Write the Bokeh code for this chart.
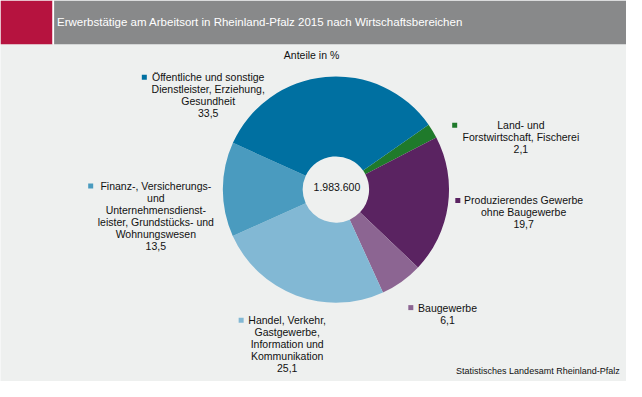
import math
from bokeh.plotting import figure
from bokeh.models import Range1d
from bokeh.core.properties import value
from bokeh.embed import file_html
from bokeh.resources import INLINE

# ---------------- data ----------------
title = "Erwerbstätige am Arbeitsort in Rheinland-Pfalz 2015 nach Wirtschaftsbereichen"
subtitle = "Anteile in %"
source = "Statistisches Landesamt Rheinland-Pfalz"

categories = [
    "Land- und Forstwirtschaft, Fischerei",
    "Produzierendes Gewerbe ohne Baugewerbe",
    "Baugewerbe",
    "Handel, Verkehr, Gastgewerbe, Information und Kommunikation",
    "Finanz-, Versicherungs- und Unternehmensdienstleister, Grundstücks- und Wohnungswesen",
    "Öffentliche und sonstige Dienstleister, Erziehung, Gesundheit",
]
label_lines = [
    ["Land- und", "Forstwirtschaft, Fischerei"],
    ["Produzierendes Gewerbe", "ohne Baugewerbe"],
    ["Baugewerbe"],
    ["Handel, Verkehr,", "Gastgewerbe,", "Information und", "Kommunikation"],
    ["Finanz-, Versicherungs-", "und", "Unternehmensdienst-", "leister, Grundstücks- und", "Wohnungswesen"],
    ["Öffentliche und sonstige", "Dienstleister, Erziehung,", "Gesundheit"],
]
shares = [2.1, 19.7, 6.1, 25.1, 13.5, 33.5]
total_employed = 1983600

# ---------------- styles / layout ----------------
colors = ["#1F7A2B", "#5A2361", "#8C6592", "#82B8D4", "#4A9BBF", "#0070A1"]
BG = "#EEF0EF"
RED = "#B6133F"
GRAY = "#88898A"
TXT = "#111111"
FONT = value("Liberation Sans")

W, H = 642.0, 397.0          # design space (reference pixels)


def fy(Y):
    return H - Y


CX, CY = 344.0, 197.0
R_OUT, R_IN = 116.0, 34.0
START_DEG = 55.0             # clockwise from 12 o'clock
LINE_H = 12.4

# label anchors: (center x, first line y, key x)
anchors = [
    (533.7, 130.0, 465.8),
    (536.5, 208.3, 469.0),
    (458.5, 320.0, 420.8),
    (294.0, 333.3, 246.8),
    (159.3, 193.3, 92.5),
    (213.0, 80.0, 147.5),
]

p = figure(width=626, height=381, x_range=Range1d(0, W), y_range=Range1d(0, H),
           output_backend="svg", toolbar_location=None, min_border=0,
           x_axis_location=None, y_axis_location=None,
           background_fill_color=BG, border_fill_color=BG, outline_line_color=None)
p.grid.visible = False

# header
p.quad(left=[0], right=[53.3], top=[fy(0)], bottom=[fy(45.7)], fill_color=RED, line_color=None)
p.quad(left=[53.3], right=[55.0], top=[fy(0)], bottom=[fy(45.7)], fill_color="#FFFFFF", line_color=None)
p.quad(left=[55.0], right=[W], top=[fy(0)], bottom=[fy(45.7)], fill_color=GRAY, line_color=None)
p.text(x=[58.0], y=[fy(22.7)], text=[title], text_align="left", text_baseline="middle",
       text_font=FONT, text_font_size=value("11.5px"), text_color="#FFFFFF")

# subtitle
p.text(x=[319.0], y=[fy(57.0)], text=[subtitle], text_align="center", text_baseline="middle",
       text_font=FONT, text_font_size=value("10.5px"), text_color=TXT)

# donut
tot = sum(shares)
starts, ends = [], []
cum = 0.0
for v in shares:
    a1 = START_DEG + cum / tot * 360.0
    cum += v
    a2 = START_DEG + cum / tot * 360.0
    starts.append(math.radians(90.0 - a2))
    ends.append(math.radians(90.0 - a1))

p.annular_wedge(x=CX, y=fy(CY), inner_radius=R_IN, outer_radius=R_OUT,
                start_angle=starts, end_angle=ends, fill_color=colors, line_color=None)

# center total
p.text(x=[CX + 1], y=[fy(194.5)], text=[f"{total_employed:,}".replace(",", ".")],
       text_align="center", text_baseline="middle",
       text_font=FONT, text_font_size=value("10.5px"), text_color=TXT)

# labels
xs, ys, ts = [], [], []
kx, ky = [], []
for lines, v, (ax, ay, kxx) in zip(label_lines, shares, anchors):
    all_lines = lines + [f"{v:.1f}".replace(".", ",")]
    for i, ln in enumerate(all_lines):
        xs.append(ax)
        ys.append(fy(ay + i * LINE_H))
        ts.append(ln)
    kx.append(kxx)
    ky.append(fy(ay))

p.text(x=xs, y=ys, text=ts, text_align="center", text_baseline="middle",
       text_font=FONT, text_font_size=value("10.5px"), text_color=TXT)
p.scatter(x=kx, y=ky, marker="square", size=5, fill_color=colors, line_color=None)

# source
p.text(x=[635.0], y=[fy(385.7)], text=[source], text_align="right", text_baseline="middle",
       text_font=FONT, text_font_size=value("9px"), text_color=TXT)

open("out.html", "w").write(file_html(p, INLINE))
